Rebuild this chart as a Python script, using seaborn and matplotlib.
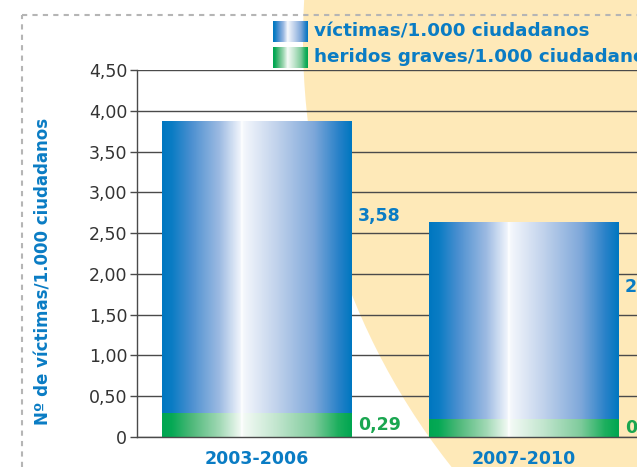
import numpy as np
import pandas as pd
import matplotlib
matplotlib.use("Agg")
import matplotlib.pyplot as plt
from matplotlib.colors import LinearSegmentedColormap
from matplotlib.patches import Ellipse
from matplotlib.lines import Line2D
import seaborn as sns

# data
periods = ["2003-2006", "2007-2010"]
victims = [3.58, 2.42]          # víctimas/1.000 ciudadanos
injured = [0.29, 0.21]          # heridos graves/1.000 ciudadanos
yticks = [0, 0.5, 1.0, 1.5, 2.0, 2.5, 3.0, 3.5, 4.0, 4.5]
legend_labels = ["víctimas/1.000 ciudadanos", "heridos graves/1.000 ciudadanos"]

df = pd.DataFrame({"period": periods, "victims": victims, "injured": injured})
df["total"] = df.victims + df.injured

BLUE = "#0a7cc4"
GREEN = "#1aa650"

sns.set_style("white")
plt.rcParams["font.family"] = ["DejaVu Sans"]

blue_cmap = LinearSegmentedColormap.from_list("bluebar", [
    (0.0, "#0077c0"), (0.05, "#0a7cc4"), (0.15, "#4a8fd0"), (0.3, "#9cbae2"),
    (0.41, "#eef3fb"), (0.42, "#ffffff"), (0.43, "#f4f7fc"), (0.6, "#c2d3ec"),
    (0.8, "#7fa8da"), (0.93, "#2a82c9"), (1.0, "#0077c0")])
green_cmap = LinearSegmentedColormap.from_list("greenbar", [
    (0.0, "#00a651"), (0.05, "#06a955"), (0.15, "#4cb878"), (0.3, "#a0d8b4"),
    (0.41, "#eef8f1"), (0.42, "#ffffff"), (0.43, "#f3faf5"), (0.6, "#c3e6cf"),
    (0.8, "#7fcb9c"), (0.93, "#1daf5e"), (1.0, "#00a651")])
grad = np.linspace(0, 1, 400).reshape(1, -1)

fig = plt.figure(figsize=(6.37, 4.67), dpi=100)
fig.patch.set_facecolor("white")

# peach circle in the background
fig.patches.append(Ellipse((991 / 637, 1 - 40 / 467), 2 * 688 / 637, 2 * 688 / 467,
                           transform=fig.transFigure, facecolor="#fee9b8",
                           edgecolor="none", zorder=-2))
# dashed frame
fig.lines.append(Line2D([22 / 637, 22 / 637], [0, 1 - 15 / 467], transform=fig.transFigure,
                        color="#b5b5b5", lw=1.5, dashes=(2.5, 2.5), zorder=-1))
fig.lines.append(Line2D([22 / 637, 1], [1 - 15 / 467, 1 - 15 / 467], transform=fig.transFigure,
                        color="#b5b5b5", lw=1.5, dashes=(2.5, 2.5), zorder=-1))

ax = fig.add_axes([137 / 637, 30 / 467, 500 / 637, 367 / 467])
ax.set_facecolor("none")

sns.barplot(data=df, x="period", y="total", color=BLUE, width=0.71, ax=ax, zorder=3)
n_blue = len(ax.patches)
sns.barplot(data=df, x="period", y="injured", color=GREEN, width=0.71, ax=ax, zorder=4)

# replace flat fills with the horizontal gradients
for i, p in enumerate(ax.patches):
    x0, y0 = p.get_x(), p.get_y()
    x1, y1 = x0 + p.get_width(), y0 + p.get_height()
    cmap = blue_cmap if i < n_blue else green_cmap
    ax.imshow(grad, cmap=cmap, extent=(x0, x1, y0, y1), aspect="auto",
              interpolation="bilinear", zorder=p.get_zorder())
    p.set_visible(False)

# value labels to the right of each bar
w = 0.71
for i, row in df.iterrows():
    ax.text(i + w / 2 + 0.025, row.total * 0.7, f"{row.victims:.2f}".replace(".", ","),
            color=BLUE, fontsize=12.5, fontweight="bold", va="center", ha="left", zorder=5)
    ax.text(i + w / 2 + 0.025, row.injured / 2, f"{row.injured:.2f}".replace(".", ","),
            color=GREEN, fontsize=12.5, fontweight="bold", va="center", ha="left", zorder=5)

ax.set_xlim(-0.450, 1.426)
ax.set_ylim(0, 4.5)
ax.set_yticks(yticks)
ax.set_yticklabels(["0"] + [f"{v:.2f}".replace(".", ",") for v in yticks[1:]])
ax.yaxis.grid(True, color="#4a4a4a", lw=1.0)
ax.set_axisbelow(True)
for s in ["top", "right"]:
    ax.spines[s].set_visible(False)
for s in ["left", "bottom"]:
    ax.spines[s].set_color("#4a4a4a")
    ax.spines[s].set_linewidth(1.0)
ax.spines["bottom"].set_zorder(6)
ax.tick_params(axis="y", length=5, width=1.0, color="#4a4a4a", pad=2,
               labelsize=12.5, labelcolor="#333333", left=True)
ax.tick_params(axis="x", length=0, pad=9, labelsize=12.5, labelcolor=BLUE)
for t in ax.get_xticklabels():
    t.set_fontweight("bold")
ax.set_xlabel("")
ax.set_ylabel("Nº de víctimas/1.000 ciudadanos", color=BLUE, fontsize=12,
              fontweight="bold")
ax.yaxis.set_label_coords(-0.168, 0.452)

# legend with gradient swatches
for k, (cmap, label) in enumerate(zip([blue_cmap, green_cmap], legend_labels)):
    top = 21 + k * 26
    sw = fig.add_axes([273 / 637, 1 - (top + 21) / 467, 35 / 637, 21 / 467])
    sw.imshow(grad, cmap=cmap, aspect="auto", interpolation="bilinear")
    sw.axis("off")
    fig.text(314 / 637, 1 - (top + 10.5) / 467, label, color=BLUE, fontsize=13.2,
             fontweight="bold", va="center", ha="left")

fig.savefig("out.png", dpi=100)
